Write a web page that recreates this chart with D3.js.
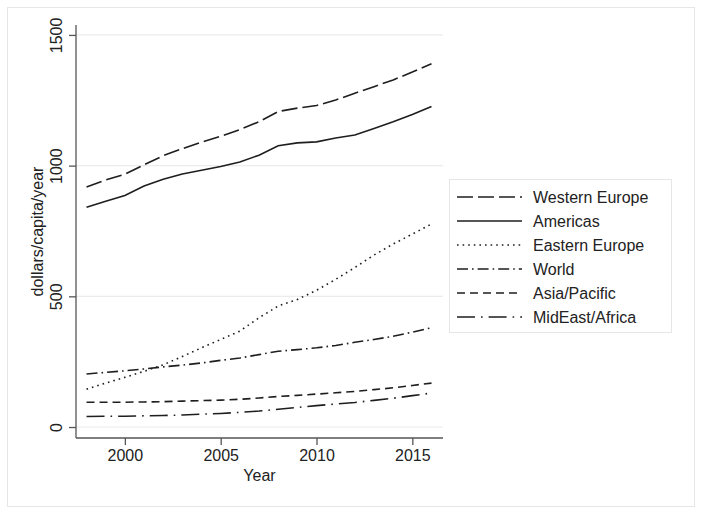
<!DOCTYPE html>
<html>
<head>
<meta charset="utf-8">
<script src="https://cdn.jsdelivr.net/npm/d3@7"></script>
<style>
  body { margin: 0; background: #fff; }
  text { font-family: "Liberation Sans", Arial, sans-serif; fill: #222; }
</style>
</head>
<body>
<svg id="chart"></svg>
<script>
// data
const years = d3.range(1998, 2017);
const westernEurope = [918, 945, 967, 1003, 1038, 1065, 1090, 1112, 1138, 1168, 1207, 1220, 1230, 1251, 1277, 1302, 1328, 1358, 1390];
const americas      = [841, 864, 886, 922, 948, 968, 982, 997, 1014, 1040, 1076, 1087, 1091, 1106, 1117, 1142, 1168, 1196, 1226];
const easternEurope = [145, 168, 190, 213, 238, 270, 303, 335, 367, 418, 463, 488, 523, 565, 610, 658, 700, 738, 777];
const world         = [203, 209, 215, 222, 230, 237, 245, 255, 264, 277, 290, 296, 303, 312, 324, 335, 347, 363, 380];
const asiaPacific   = [95, 95, 95, 96, 97, 99, 101, 103, 106, 111, 117, 121, 126, 131, 136, 143, 150, 159, 168];
const mideastAfrica = [40, 41, 41, 43, 44, 46, 49, 52, 56, 61, 68, 75, 82, 88, 94, 102, 110, 120, 130];
const yTicks = [0, 500, 1000, 1500];
const xTicks = [2000, 2005, 2010, 2015];

const series = [
    { name: "Western Europe", values: westernEurope, dash: "16,5" },
    { name: "Americas", values: americas, dash: null },
    { name: "Eastern Europe", values: easternEurope, dash: "1.6,4" },
    { name: "World", values: world, dash: "11,4,1.6,4" },
    { name: "Asia/Pacific", values: asiaPacific, dash: "8,5" },
    { name: "MidEast/Africa", values: mideastAfrica, dash: "18,6,1.6,6" }
];

const width = 704, height = 515;
const svg = d3.select("#chart")
    .attr("width", width)
    .attr("height", height);

// outer frame
svg.append("rect")
    .attr("x", 7.5).attr("y", 7.5)
    .attr("width", 687).attr("height", 499)
    .attr("fill", "none")
    .attr("stroke", "#e6e6e6");

const plot = { left: 76, right: 443, top: 25, bottom: 438 };

const xScale = d3.scaleLinear()
    .domain([1997.45, 2016.6])
    .range([plot.left, plot.right]);

const yScale = d3.scaleLinear()
    .domain([-42, 1538])
    .range([plot.bottom, plot.top]);

// grid lines
svg.append("g")
    .selectAll("line")
    .data(yTicks)
    .enter()
    .append("line")
    .attr("x1", plot.left)
    .attr("x2", plot.right)
    .attr("y1", d => yScale(d))
    .attr("y2", d => yScale(d))
    .attr("stroke", "#ececec")
    .attr("stroke-width", 1.2);

// axes
const xAxis = d3.axisBottom(xScale).tickValues(xTicks).tickFormat(d3.format("d")).tickSize(7).tickPadding(5);
const yAxis = d3.axisLeft(yScale).tickValues(yTicks).tickFormat(d3.format("d")).tickSize(7).tickPadding(0);

const gx = svg.append("g")
    .attr("transform", `translate(0, ${plot.bottom})`)
    .call(xAxis);
gx.select(".domain").attr("d", `M${plot.left},0H${plot.right}`);

const gy = svg.append("g")
    .attr("transform", `translate(${plot.left}, 0)`)
    .call(yAxis);
gy.select(".domain").attr("d", `M0,${plot.top}V${plot.bottom}`);

svg.selectAll(".domain, .tick line")
    .attr("stroke", "#555")
    .attr("stroke-width", 1.3);

gx.selectAll(".tick text")
    .attr("font-size", 16)
    .attr("fill", "#222")
    .style("font-family", "Liberation Sans, Arial, sans-serif");

// rotated y tick labels
gy.selectAll(".tick text")
    .attr("font-size", 16)
    .attr("fill", "#222")
    .style("font-family", "Liberation Sans, Arial, sans-serif")
    .attr("text-anchor", "middle")
    .attr("dy", 0)
    .attr("x", 0)
    .attr("transform", `translate(-14, 0) rotate(-90)`);

// axis titles
svg.append("text")
    .attr("x", (plot.left + plot.right) / 2)
    .attr("y", 481)
    .attr("text-anchor", "middle")
    .attr("font-size", 16)
    .text("Year");

svg.append("text")
    .attr("transform", `translate(43, ${(plot.top + plot.bottom) / 2}) rotate(-90)`)
    .attr("text-anchor", "middle")
    .attr("font-size", 16)
    .text("dollars/capita/year");

// lines
const line = d3.line()
    .x((d, i) => xScale(years[i]))
    .y(d => yScale(d));

svg.append("g")
    .selectAll("path")
    .data(series)
    .enter()
    .append("path")
    .attr("fill", "none")
    .attr("stroke", "#1e1e1e")
    .attr("stroke-width", 1.6)
    .attr("stroke-dasharray", d => d.dash)
    .attr("d", d => line(d.values));

// legend
const legend = svg.append("g");
legend.append("rect")
    .attr("x", 449.5).attr("y", 179.5)
    .attr("width", 222).attr("height", 153)
    .attr("fill", "#fff")
    .attr("stroke", "#e6e6e6");

const rows = legend.selectAll(".row")
    .data(series)
    .enter()
    .append("g")
    .attr("class", "row")
    .attr("transform", (d, i) => `translate(0, ${197 + i * 24})`);

rows.append("line")
    .attr("x1", 457).attr("x2", 522)
    .attr("y1", 0).attr("y2", 0)
    .attr("stroke", "#1e1e1e")
    .attr("stroke-width", 1.6)
    .attr("stroke-dasharray", d => d.dash);

rows.append("text")
    .attr("x", 533)
    .attr("y", 6)
    .attr("font-size", 16)
    .text(d => d.name);
</script>
</body>
</html>
